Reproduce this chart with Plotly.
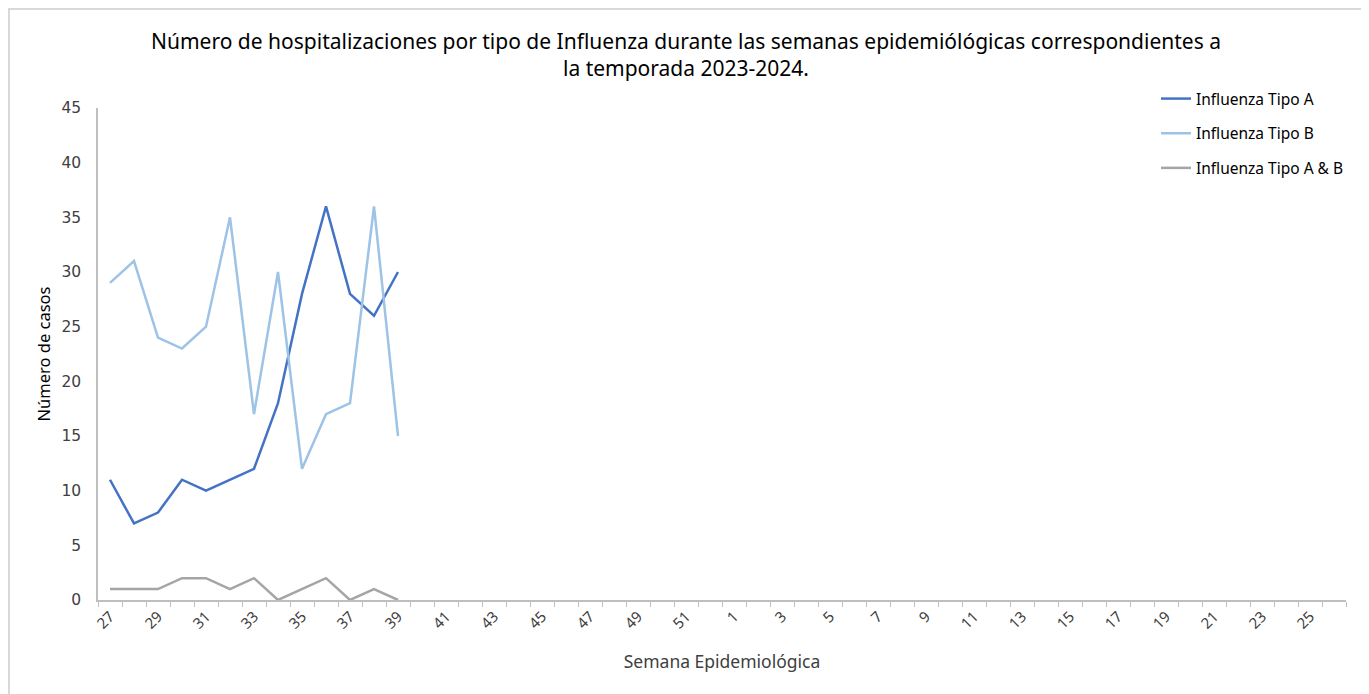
import plotly.graph_objects as go

weeks = list(range(27, 53)) + list(range(1, 27))
tipo_a = [11, 7, 8, 11, 10, 11, 12, 18, 28, 36, 28, 26, 30]
tipo_b = [29, 31, 24, 23, 25, 35, 17, 30, 12, 17, 18, 36, 15]
tipo_ab = [1, 1, 1, 2, 2, 1, 2, 0, 1, 2, 0, 1, 0]
y_ticks = [0, 5, 10, 15, 20, 25, 30, 35, 40, 45]

FONT = "Noto Sans"
idx = list(range(len(weeks)))

# page body has an 8px margin; compensate so the plot lands where the reference has it
OFF = 8
L, R, T, B = 98 - OFF, 1369 - 1346 + OFF, 108 - OFF, 694 - 600 + OFF
PW = 1369 - L - R
PH = 694 - T - B

fig = go.Figure()
series = [
    ("Influenza Tipo A", tipo_a, "#4472C4"),
    ("Influenza Tipo B", tipo_b, "#9DC3E6"),
    ("Influenza Tipo A & B", tipo_ab, "#A5A5A5"),
]
for name, vals, col in series:
    fig.add_trace(go.Scatter(
        x=idx[:len(vals)], y=vals, mode="lines", name=name, legendgroup=name,
        line=dict(color=col, width=2.5),
    ))

fig.update_layout(
    width=1369, height=694,
    paper_bgcolor="white", plot_bgcolor="white",
    margin=dict(l=L, r=R, t=T, b=B, autoexpand=False),
    font=dict(family=FONT, size=13, color="#404040"),
    title=dict(
        text="Número de hospitalizaciones por tipo de Influenza durante las semanas epidemiólógicas correspondientes a<br>la temporada 2023-2024.",
        x=(686 - OFF) / 1369, xref="container", y=(694 - (49 - OFF)) / 694, yref="container",
        xanchor="center", yanchor="top",
        font=dict(family=FONT, size=21, color="#000000"),
    ),
    showlegend=True,
    legend=dict(
        x=(1156 - 98) / PW, y=(600 - 82) / PH, xanchor="left", yanchor="top",
        font=dict(family=FONT, size=15.5, color="#000000"),
        tracegroupgap=11.5, bgcolor="rgba(0,0,0,0)",
    ),
    xaxis=dict(
        range=[-0.5, len(weeks) - 0.5],
        tickmode="array",
        tickvals=idx[::2],
        ticktext=[str(w) for w in weeks[::2]],
        tickangle=-45,
        ticks="",
        showline=True, linecolor="#BFBFBF", linewidth=1.5,
        showgrid=False, zeroline=False,
        minor=dict(ticks="outside", tick0=-0.5, dtick=1, ticklen=5, tickcolor="#BFBFBF", showgrid=False),
        tickfont=dict(family=FONT, size=15, color="#404040"),
        title=dict(text="Semana Epidemiológica", font=dict(family=FONT, size=17.5, color="#404040"), standoff=24),
    ),
    yaxis=dict(
        range=[0, 45],
        tickmode="array", tickvals=y_ticks,
        showline=True, linecolor="#BFBFBF", linewidth=1.5,
        showgrid=False, zeroline=False,
        ticks="outside", ticklen=12, tickcolor="rgba(0,0,0,0)",
        tickfont=dict(family="DejaVu Sans", size=15.5, color="#404040"),
        title=dict(text="Número de casos", font=dict(family=FONT, size=16.5, color="#000000"), standoff=7),
    ),
)

fig.add_shape(type="rect", xref="paper", yref="paper",
              x0=(9 - 98) / PW, x1=(1366 - 98) / PW,
              y0=(600 - 720) / PH, y1=(600 - 9) / PH,
              line=dict(color="#D9D9D9", width=2), layer="below")

fig.write_html("out.html")
